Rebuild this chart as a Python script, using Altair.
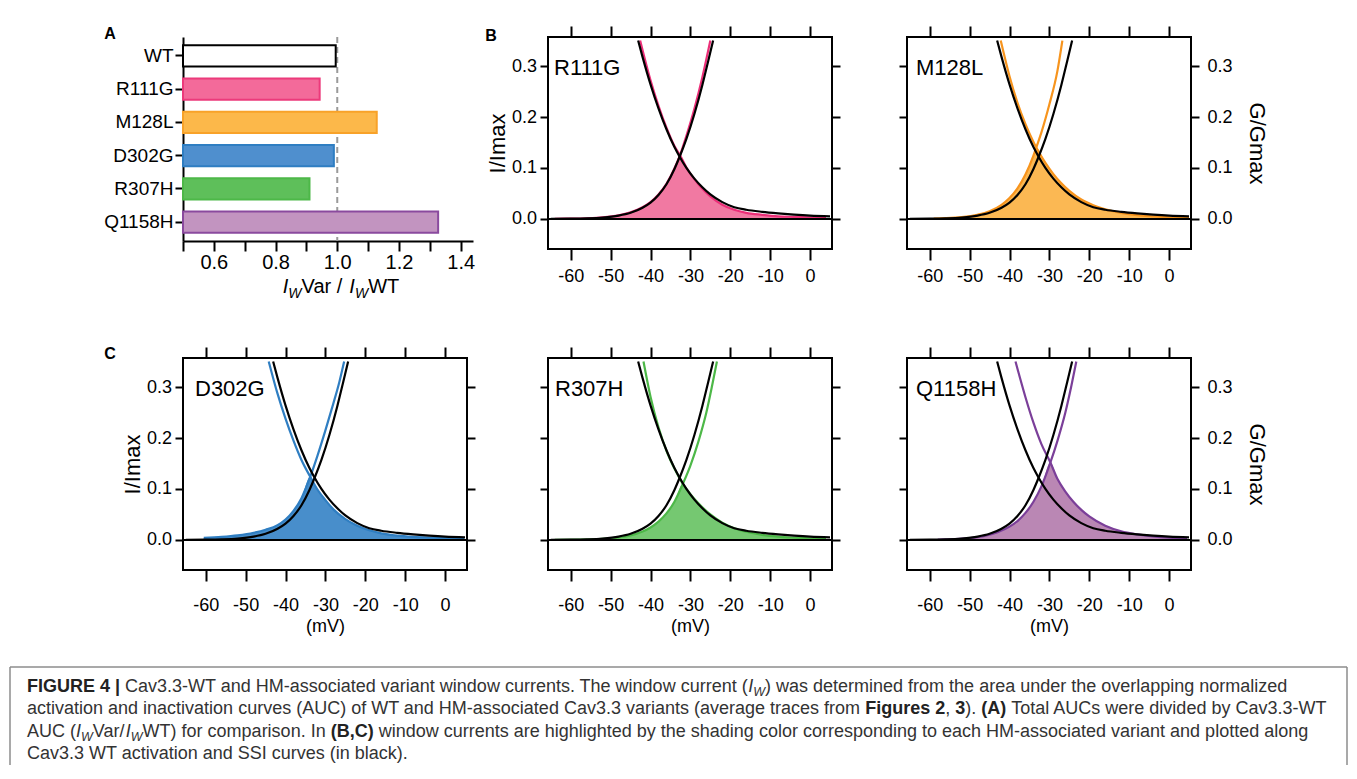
import altair as alt
import pandas as pd

# ---------------- data: panel A ----------------
variants = ["WT", "R111G", "M128L", "D302G", "R307H", "Q1158H"]
iw_ratio = [0.995, 0.943, 1.128, 0.989, 0.910, 1.327]
bar_fill = ["#ffffff", "#f36a9a", "#fcb84a", "#4f8fce", "#5ebf5a", "#c294c0"]
bar_stroke = ["#000000", "#ec3a7b", "#f8a229", "#2f7ec2", "#4db848", "#8a4a9e"]
a_ticks = [0.5, 0.6, 0.7, 0.8, 0.9, 1.0, 1.1, 1.2, 1.3, 1.4]
a_labels = ["", "0.6", "", "0.8", "", "1.0", "", "1.2", "", "1.4"]

# ---------------- data: WT curves (black) ----------------
wt_act_mv = [-65, -60, -56, -52, -48, -45, -42, -40, -38, -36, -34, -32.7, -31, -29, -27, -25.5, -24.3]
wt_act_val = [0.0002, 0.0005, 0.0012, 0.0028, 0.0065, 0.012, 0.022, 0.032, 0.047, 0.068, 0.098, 0.122,
              0.157, 0.206, 0.263, 0.311, 0.35]
wt_ina_mv = [-43.1, -42, -40, -38, -36, -34, -32.7, -31, -29, -27, -25, -22, -19, -16, -12, -8, -4, 0, 5]
wt_ina_val = [0.35, 0.318, 0.264, 0.217, 0.176, 0.141, 0.122, 0.1, 0.079, 0.062, 0.048, 0.033, 0.023,
              0.018, 0.014, 0.011, 0.0085, 0.0065, 0.005]

# ---------------- data: variant curves ----------------
r111g_act_mv = [-64, -60, -56, -52, -48, -45, -42, -40, -38, -36, -34, -32.6, -31, -29, -27, -25]
r111g_act_val = [0.0003, 0.0006, 0.0013, 0.003, 0.007, 0.013, 0.023, 0.033, 0.048, 0.069, 0.099, 0.125,
                 0.163, 0.216, 0.278, 0.35]
r111g_ina_mv = [-42.6, -40, -38, -36, -34, -32.6, -31, -29, -27, -25, -22, -19, -16, -12, -8, -4, 0, 4]
r111g_ina_val = [0.35, 0.272, 0.222, 0.179, 0.143, 0.125, 0.101, 0.078, 0.059, 0.044, 0.028, 0.018,
                 0.012, 0.008, 0.005, 0.004, 0.003, 0.002]
r111g_cross = -32.6

m128l_act_mv = [-59, -56, -52, -48, -45, -42, -40, -38, -36, -34, -33.3, -32, -30, -28, -26.75]
m128l_act_val = [0.00075, 0.0015, 0.0036, 0.0083, 0.0151, 0.0276, 0.041, 0.06, 0.087, 0.124, 0.14, 0.17,
                 0.225, 0.29, 0.35]
m128l_ina_mv = [-42.2, -40, -38, -36, -34, -33.3, -31, -29, -27, -25, -22, -19, -16, -12, -8, -4, 0, 5]
m128l_ina_val = [0.35, 0.28, 0.228, 0.186, 0.151, 0.14, 0.11, 0.088, 0.07, 0.055, 0.038, 0.027, 0.019,
                 0.012, 0.0075, 0.005, 0.003, 0.002]
m128l_cross = -33.3

d302g_act_mv = [-60.5, -56, -52, -48, -45, -42, -40, -38, -36, -33.8, -32, -30, -28, -26.5, -25.3]
d302g_act_val = [0.004, 0.006, 0.009, 0.014, 0.02, 0.029, 0.04, 0.057, 0.082, 0.124, 0.165, 0.215, 0.268,
                 0.31, 0.35]
d302g_ina_mv = [-44.2, -42, -40, -38, -36, -33.8, -32, -30, -28, -25, -22, -19, -16, -12, -8, -4, 0, 4.8]
d302g_ina_val = [0.35, 0.287, 0.238, 0.195, 0.157, 0.124, 0.099, 0.078, 0.06, 0.041, 0.028, 0.019, 0.013,
                 0.0085, 0.006, 0.0045, 0.0035, 0.0025]
d302g_cross = -33.8

r307h_act_mv = [-64, -58, -52, -48, -45, -42, -40, -38, -36, -34, -31.9, -30, -28, -26, -24.5, -23.35]
r307h_act_val = [0.0002, 0.0006, 0.002, 0.005, 0.009, 0.0165, 0.0245, 0.036, 0.052, 0.075, 0.11, 0.146,
                 0.193, 0.25, 0.305, 0.35]
r307h_ina_mv = [-41.76, -40, -38, -36, -34, -31.9, -30, -28, -25, -22, -19, -16, -12, -8, -4, 0, 4]
r307h_ina_val = [0.35, 0.281, 0.221, 0.175, 0.14, 0.11, 0.09, 0.072, 0.05, 0.034, 0.023, 0.016, 0.01,
                 0.0065, 0.0045, 0.003, 0.002]
r307h_cross = -31.9

q1158h_act_mv = [-58, -54, -50, -46, -43, -40, -38, -36, -34, -32, -29.75, -28, -26, -24.5, -23.25]
q1158h_act_val = [0.0006, 0.0014, 0.0035, 0.0083, 0.015, 0.026, 0.037, 0.053, 0.075, 0.105, 0.152, 0.194,
                  0.25, 0.302, 0.35]
q1158h_ina_mv = [-38.5, -36, -34, -32, -29.75, -28, -26, -24, -22, -20, -16, -12, -8, -4, 0, 4.5]
q1158h_ina_val = [0.35, 0.28, 0.23, 0.188, 0.152, 0.12, 0.095, 0.075, 0.059, 0.046, 0.028, 0.017, 0.011,
                  0.007, 0.0045, 0.003]
q1158h_cross = -29.75

mv_ticks = [-60, -50, -40, -30, -20, -10, 0]
val_ticks = [0.0, 0.1, 0.2, 0.3]

FONT = "Liberation Sans"

# ---------------- panel A ----------------
dfA = pd.DataFrame({"variant": variants, "ratio": iw_ratio})
xA_scale = alt.Scale(domain=[0.5, 1.44], nice=False, zero=False)
label_map = "{" + ", ".join("'%.1f': '%s'" % (v, l) for v, l in zip(a_ticks, a_labels)) + "}"
xA_axis = alt.Axis(title=None, values=a_ticks, labelExpr=label_map + "[format(datum.value, '.1f')]",
                   tickSize=10, labelFontSize=20, labelPadding=1, domain=True, domainColor="black",
                   domainWidth=2, labelFlush=False, labelOverlap=False)
bars = alt.Chart(dfA).mark_bar(strokeWidth=2).encode(
    y=alt.Y("variant:N", sort=variants,
            scale=alt.Scale(paddingInner=0.36, paddingOuter=0.25),
            axis=alt.Axis(title=None, labelFontSize=19, tickSize=8, labelPadding=2, domain=True,
                          domainColor="black", domainWidth=2)),
    x=alt.X("ratio:Q", scale=xA_scale, axis=xA_axis),
    x2=alt.datum(0.5),
    fill=alt.Fill("variant:N", scale=alt.Scale(domain=variants, range=bar_fill), legend=None),
    stroke=alt.Stroke("variant:N", scale=alt.Scale(domain=variants, range=bar_stroke), legend=None),
)
one = pd.DataFrame({"k": [0]})
ref_df = pd.DataFrame({"ratio": [1.0]})
ref_rule = alt.Chart(ref_df).mark_rule(color="#9a9a9a", strokeDash=[6, 4], strokeWidth=2).encode(
    x=alt.X("ratio:Q", scale=xA_scale, axis=xA_axis))

# Widths (Arial / Liberation Sans metrics, per 1000 em) used only to lay out rich-text runs
REG = {" ": 278, "(": 333, ")": 333, ",": 278, "-": 333, ".": 278, "/": 278, "|": 260,
       "A": 667, "B": 667, "C": 722, "D": 722, "E": 667, "F": 611, "G": 778, "H": 722, "I": 278,
       "M": 833, "S": 667, "T": 611, "U": 722, "V": 667, "W": 944,
       "a": 556, "b": 556, "c": 500, "d": 556, "e": 556, "f": 278, "g": 556, "h": 556, "i": 222,
       "k": 500, "l": 222, "m": 833, "n": 556, "o": 556, "p": 556, "r": 333, "s": 500, "t": 278,
       "u": 556, "v": 500, "w": 722, "y": 500, "z": 500}
BOLD = {" ": 278, "(": 333, ")": 333, ",": 278, ".": 278, "|": 280, "A": 722, "B": 722, "C": 722,
        "E": 667, "F": 611, "G": 778, "I": 278, "R": 722, "U": 722, "e": 556, "g": 611, "i": 278,
        "r": 389, "s": 556, "u": 611}


def layout_runs(runs, x0, y0, sizes, sub_dy):
    rows = []
    x = x0
    for text, st in runs:
        size = sizes[st]
        tbl = BOLD if st == "b" else REG
        w = sum(tbl.get(c, 556) for c in text) * size / 1000.0
        lead = len(text) - len(text.lstrip(" "))
        t = text.strip(" ")
        if t:
            rows.append({"text": t, "x": x + lead * tbl[" "] * size / 1000.0,
                         "y": y0 + (sub_dy if st == "s" else 0), "style": st, "size": size})
        x += w
    return rows, x - x0


# x-axis title of panel A: I_W Var / I_W WT
a_title_runs = [("I", "i"), ("W", "s"), ("Var / ", "n"), ("I", "i"), ("W", "s"), ("WT", "n")]
_, a_title_w = layout_runs(a_title_runs, 0, 0, {"n": 20, "i": 20, "s": 14}, 5)
a_title_rows, _ = layout_runs(a_title_runs, 158 - a_title_w / 2, 256, {"n": 20, "i": 20, "s": 14}, 5)
a_title_layers = []
for r in a_title_rows:
    a_title_layers.append(
        alt.Chart(one).mark_text(align="left", baseline="alphabetic", fontSize=r["size"],
                                 fontStyle="italic" if r["style"] in ("i", "s") else "normal",
                                 color="black").encode(
            x=alt.value(r["x"]), y=alt.value(r["y"]), text=alt.value(r["text"])))

letter_A = alt.Chart(one).mark_text(fontSize=16, fontWeight="bold", align="center", baseline="middle",
                                    color="black").encode(x=alt.value(-73), y=alt.value(-3),
                                                          text=alt.value("A"))
panel_A = alt.layer(ref_rule, bars, letter_A, *a_title_layers).properties(width=290, height=204)

# ---------------- curve panels ----------------
XS = alt.Scale(domain=[-65.7, 5.5], nice=False, zero=False)
YS = alt.Scale(domain=[-0.059, 0.357], nice=False, zero=False)
zero_df = pd.DataFrame({"z": [0.0]})
MV_LABEL = "toString(datum.value)"


def curve(mv, val):
    return pd.DataFrame({"mv": mv, "val": val})


def panel(name, line_col, fill_col, act_mv, act_val, ina_mv, ina_val, cross, left, right,
          bottom_title, lab_pad, name_dx, letter=None):
    act = curve(act_mv, act_val)
    ina = curve(ina_mv, ina_val)
    fill = pd.concat([act[act.mv <= cross], ina[ina.mv > cross]]).sort_values("mv")
    fill["base"] = 0.0
    xn = alt.X("mv:Q", scale=XS, axis=None)
    yn = alt.Y("val:Q", scale=YS, axis=None)

    area = alt.Chart(fill).mark_area(color=fill_col, opacity=0.9, interpolate="monotone").encode(
        x=xn, y=yn, y2="base:Q")

    def line(df, color, w):
        return alt.Chart(df).mark_line(color=color, strokeWidth=w, interpolate="monotone").encode(x=xn, y=yn)

    layers = [area,
              line(act, line_col, 2.2), line(ina, line_col, 2.2),
              line(curve(wt_act_mv, wt_act_val), "black", 2.2),
              line(curve(wt_ina_mv, wt_ina_val), "black", 2.2),
              alt.Chart(zero_df).mark_rule(color="black", strokeWidth=2).encode(
                  y=alt.Y("z:Q", scale=YS, axis=None))]

    if bottom_title:
        xb_axis = alt.Axis(orient="bottom", values=mv_ticks, labelPadding=lab_pad, title="(mV)",
                           titlePadding=3, titleFontSize=18, labelFlush=False, labelOverlap=False,
                           labelExpr=MV_LABEL)
    else:
        xb_axis = alt.Axis(orient="bottom", values=mv_ticks, labelPadding=lab_pad, title=None,
                           labelFlush=False, labelOverlap=False, labelExpr=MV_LABEL)
    if left:
        yl_axis = alt.Axis(orient="left", values=val_ticks, format=".1f", tickSize=8, labelPadding=3.5,
                           title="I/Imax", titlePadding=2)
    else:
        yl_axis = alt.Axis(orient="left", values=val_ticks, tickSize=8, labels=False, title=None)
    if right:
        yr_axis = alt.Axis(orient="right", values=val_ticks, format=".1f", tickSize=8, labelPadding=8,
                           title="G/Gmax", titlePadding=12)
    else:
        yr_axis = alt.Axis(orient="right", values=val_ticks, tickSize=8, labels=False, title=None)
    xt_axis = alt.Axis(orient="top", values=mv_ticks, labels=False, title=None)

    ax1 = alt.Chart(act).mark_point(opacity=0).encode(
        x=alt.X("mv:Q", scale=XS, axis=xb_axis), y=alt.Y("val:Q", scale=YS, axis=yl_axis))
    ax2 = alt.Chart(act).mark_point(opacity=0).encode(
        x=alt.X("mv:Q", scale=XS, axis=xt_axis), y=alt.Y("val:Q", scale=YS, axis=yr_axis))
    layers += [ax1, ax2]

    layers.append(alt.Chart(one).mark_text(fontSize=22, align="left", baseline="alphabetic",
                                           color="black").encode(
        x=alt.value(name_dx), y=alt.value(38), text=alt.value(name)))
    if letter is not None:
        layers.append(alt.Chart(one).mark_text(fontSize=16, fontWeight="bold", align="center",
                                               baseline="middle", color="black").encode(
            x=alt.value(letter[1]), y=alt.value(letter[2]), text=alt.value(letter[0])))

    return alt.layer(*layers).resolve_axis(x="independent", y="independent").properties(
        width=284, height=212, view=alt.ViewBackground(stroke="black", strokeWidth=2))


B1 = panel("R111G", "#ec2f78", "#f06a98", r111g_act_mv, r111g_act_val, r111g_ina_mv, r111g_ina_val,
           r111g_cross, True, False, False, 7, 6, letter=("B", -57, -1))
B2 = panel("M128L", "#f7941d", "#fbb040", m128l_act_mv, m128l_act_val, m128l_ina_mv, m128l_ina_val,
           m128l_cross, False, True, False, 7, 9)
C1 = panel("D302G", "#2f7ec2", "#3482c5", d302g_act_mv, d302g_act_val, d302g_ina_mv, d302g_ina_val,
           d302g_cross, True, False, True, 15, 12, letter=("C", -73, -4))
C2 = panel("R307H", "#4db848", "#66c262", r307h_act_mv, r307h_act_val, r307h_ina_mv, r307h_ina_val,
           r307h_cross, False, False, True, 15, 7)
C3 = panel("Q1158H", "#7b3f99", "#b27aac", q1158h_act_mv, q1158h_act_val, q1158h_ina_mv, q1158h_ina_val,
           q1158h_cross, False, True, True, 15, 9)

# ---------------- caption ----------------
CX, CY = 182, 678  # page position of the caption cell origin
cap_lines = [
    [("FIGURE 4 |", "b"),
     (" Cav3.3-WT and HM-associated variant window currents. The window current (", "n"),
     ("I", "i"), ("W", "s"), (") was determined from the area under the overlapping normalized", "n")],
    [("activation and inactivation curves (AUC) of WT and HM-associated Cav3.3 variants (average traces from ", "n"),
     ("Figures 2", "b"), (", ", "n"), ("3", "b"), ("). ", "n"), ("(A)", "b"),
     (" Total AUCs were divided by Cav3.3-WT", "n")],
    [("AUC (", "n"), ("I", "i"), ("W", "s"), ("Var/", "n"), ("I", "i"), ("W", "s"),
     ("WT) for comparison. In ", "n"), ("(B,C)", "b"),
     (" window currents are highlighted by the shading color corresponding to each HM-associated variant and plotted along", "n")],
    [("Cav3.3 WT activation and SSI curves (in black).", "n")],
]
cap_base = [690.5, 713, 735.5, 758]
cap_sizes = {"n": 18, "b": 18, "i": 18, "s": 12.5}
cap_rows = []
for runs, yb in zip(cap_lines, cap_base):
    rows, _ = layout_runs(runs, 26 - CX, yb - CY, cap_sizes, 4.5)
    cap_rows += rows
cap_df = pd.DataFrame(cap_rows)


def cap_text(style, **kw):
    return alt.Chart(cap_df).transform_filter(alt.datum.style == style).mark_text(
        align="left", baseline="alphabetic", **kw).encode(
        x=alt.X("x:Q", scale=None, axis=None), y=alt.Y("y:Q", scale=None, axis=None), text="text:N")


box_col = "#8c8c8c"
cap_box = [
    alt.Chart(one).mark_rule(color=box_col, strokeWidth=1.5).encode(
        x=alt.value(9 - CX), x2=alt.value(1346 - CX), y=alt.value(666 - CY)),
    alt.Chart(one).mark_rule(color=box_col, strokeWidth=1.5).encode(
        x=alt.value(9 - CX), y=alt.value(666 - CY), y2=alt.value(764 - CY)),
    alt.Chart(one).mark_rule(color=box_col, strokeWidth=1.5).encode(
        x=alt.value(1346 - CX), y=alt.value(666 - CY), y2=alt.value(764 - CY)),
]
caption = alt.layer(
    *cap_box,
    cap_text("n", fontSize=18, color="#333333"),
    cap_text("b", fontSize=18, fontWeight="bold", color="#222222"),
    cap_text("i", fontSize=18, fontStyle="italic", color="#333333"),
    cap_text("s", fontSize=12.5, fontStyle="italic", color="#333333"),
).properties(width=1, height=1)

chart = alt.concat(
    panel_A, B1, B2, C1, C2, C3, caption,
    columns=3, spacing={"row": 109, "column": 75}, bounds="flush", align="each",
).properties(
    padding={"left": 1, "top": 16, "right": 0, "bottom": 0}
).configure(
    font=FONT
).configure_view(
    strokeWidth=0
).configure_axis(
    labelFont=FONT, labelFontSize=18, labelColor="black", tickColor="black", tickWidth=2, tickSize=11,
    domain=False, grid=False, titleFont=FONT, titleFontSize=22, titleFontWeight="normal",
    titleColor="black"
)

chart.save("out.html", embed_options={"renderer": "svg", "actions": False})
